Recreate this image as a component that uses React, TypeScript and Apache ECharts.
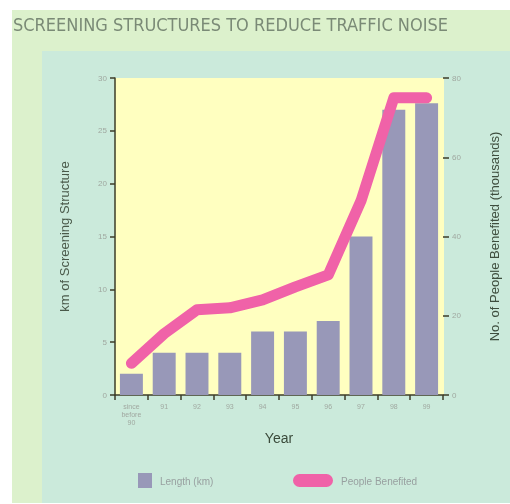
import React, { useEffect, useRef } from "react";
import * as echarts from "echarts";

const categories = ["since\nbefore\n90", "91", "92", "93", "94", "95", "96", "97", "98", "99"];
const lengthKm = [2, 4, 4, 4, 6, 6, 7, 15, 27, 27.6];
const peopleThousands = [8, 15.5, 21.5, 22, 24, 27.3, 30.3, 49, 75, 75];
const leftTicks = { min: 0, max: 30, interval: 5 };
const rightTicks = { min: 0, max: 80, interval: 20 };

const BAR = "#9898b8";
const LINE = "#f062a8";
const AXIS = "#3c3c28";
const LABEL = "#a0a8a0";

export default function App() {
  const ref = useRef<HTMLDivElement>(null);
  useEffect(() => {
    const chart = echarts.init(ref.current!, null, { renderer: "svg" });
    chart.setOption({
      animation: false,
      title: {
        text: "SCREENING STRUCTURES TO REDUCE TRAFFIC NOISE",
        left: 8,
        top: 10,
        textStyle: {
          fontFamily: "Liberation Sans Narrow, DejaVu Sans Condensed, Liberation Sans",
          fontSize: 18,
          fontWeight: "normal",
          color: "#7a8a76",
        },
      },
      graphic: [
        { type: "rect", z: -10, shape: { x: 12, y: 10, width: 498, height: 493 }, style: { fill: "#dcf1cc" }, silent: true },
        { type: "rect", z: -9, shape: { x: 42, y: 51, width: 468, height: 452 }, style: { fill: "#cbeadb" }, silent: true },
        { type: "rect", shape: { x: 138, y: 473, width: 14, height: 15 }, style: { fill: BAR } },
        { type: "text", x: 160, y: 481, style: { text: "Length (km)", fill: "#98a0a0", fontSize: 10, fontFamily: "Liberation Sans", verticalAlign: "middle" } },
        { type: "rect", shape: { x: 293, y: 474, width: 40, height: 13, r: 6.5 }, style: { fill: LINE } },
        { type: "text", x: 341, y: 481, style: { text: "People Benefited", fill: "#98a0a0", fontSize: 10, fontFamily: "Liberation Sans", verticalAlign: "middle" } },
      ],
      grid: {
        left: 115,
        right: 67,
        top: 78,
        bottom: 109,
        show: true,
        backgroundColor: "#ffffc0",
        borderWidth: 0,
      },
      xAxis: {
        type: "category",
        data: categories,
        boundaryGap: true,
        name: "Year",
        nameLocation: "middle",
        nameGap: 34,
        nameTextStyle: { fontSize: 14, color: "#3a4a3a", fontFamily: "Liberation Sans" },
        axisLine: { lineStyle: { color: AXIS, width: 1.5 } },
        axisTick: { show: true, inside: false, length: 5, lineStyle: { color: AXIS, width: 1.5 } },
        axisLabel: { fontSize: 7, color: LABEL, lineHeight: 8, margin: 7, fontFamily: "Liberation Sans", interval: 0 },
      },
      yAxis: [
        {
          type: "value",
          ...leftTicks,
          position: "left",
          name: "km of Screening Structure",
          nameLocation: "middle",
          nameRotate: 90,
          nameGap: 44,
          nameTextStyle: { fontSize: 13, color: "#4a5a4a", fontFamily: "Liberation Sans" },
          axisLine: { show: true, lineStyle: { color: AXIS, width: 1.5 } },
          axisTick: { show: true, inside: false, length: 5, lineStyle: { color: AXIS, width: 1.5 } },
          axisLabel: { fontSize: 8, color: LABEL, margin: 8, fontFamily: "Liberation Sans" },
          splitLine: { show: false },
        },
        {
          type: "value",
          ...rightTicks,
          position: "right",
          name: "No. of People Benefited (thousands)",
          nameLocation: "middle",
          nameRotate: 90,
          nameGap: 45,
          nameTextStyle: { fontSize: 13, color: "#3e4e3e", fontFamily: "Liberation Sans" },
          axisLine: { show: true, lineStyle: { color: "#ffffc0", width: 1 } },
          axisTick: { show: true, inside: false, length: 6, lineStyle: { color: AXIS, width: 1.5 } },
          axisLabel: { fontSize: 8, color: LABEL, margin: 9, fontFamily: "Liberation Sans" },
          splitLine: { show: false },
        },
      ],
      series: [
        {
          name: "Length (km)",
          type: "bar",
          data: lengthKm,
          yAxisIndex: 0,
          barWidth: "70%",
          itemStyle: { color: BAR },
          z: 2,
        },
        {
          name: "People Benefited",
          type: "line",
          data: peopleThousands,
          yAxisIndex: 1,
          symbol: "none",
          lineStyle: { color: LINE, width: 11, cap: "round", join: "round" },
          itemStyle: { color: LINE },
          z: 3,
        },
      ],
    });
    return () => chart.dispose();
  }, []);
  return <div ref={ref} style={{ position: "fixed", left: 0, top: 0, width: 510, height: 504 }} />;
}
